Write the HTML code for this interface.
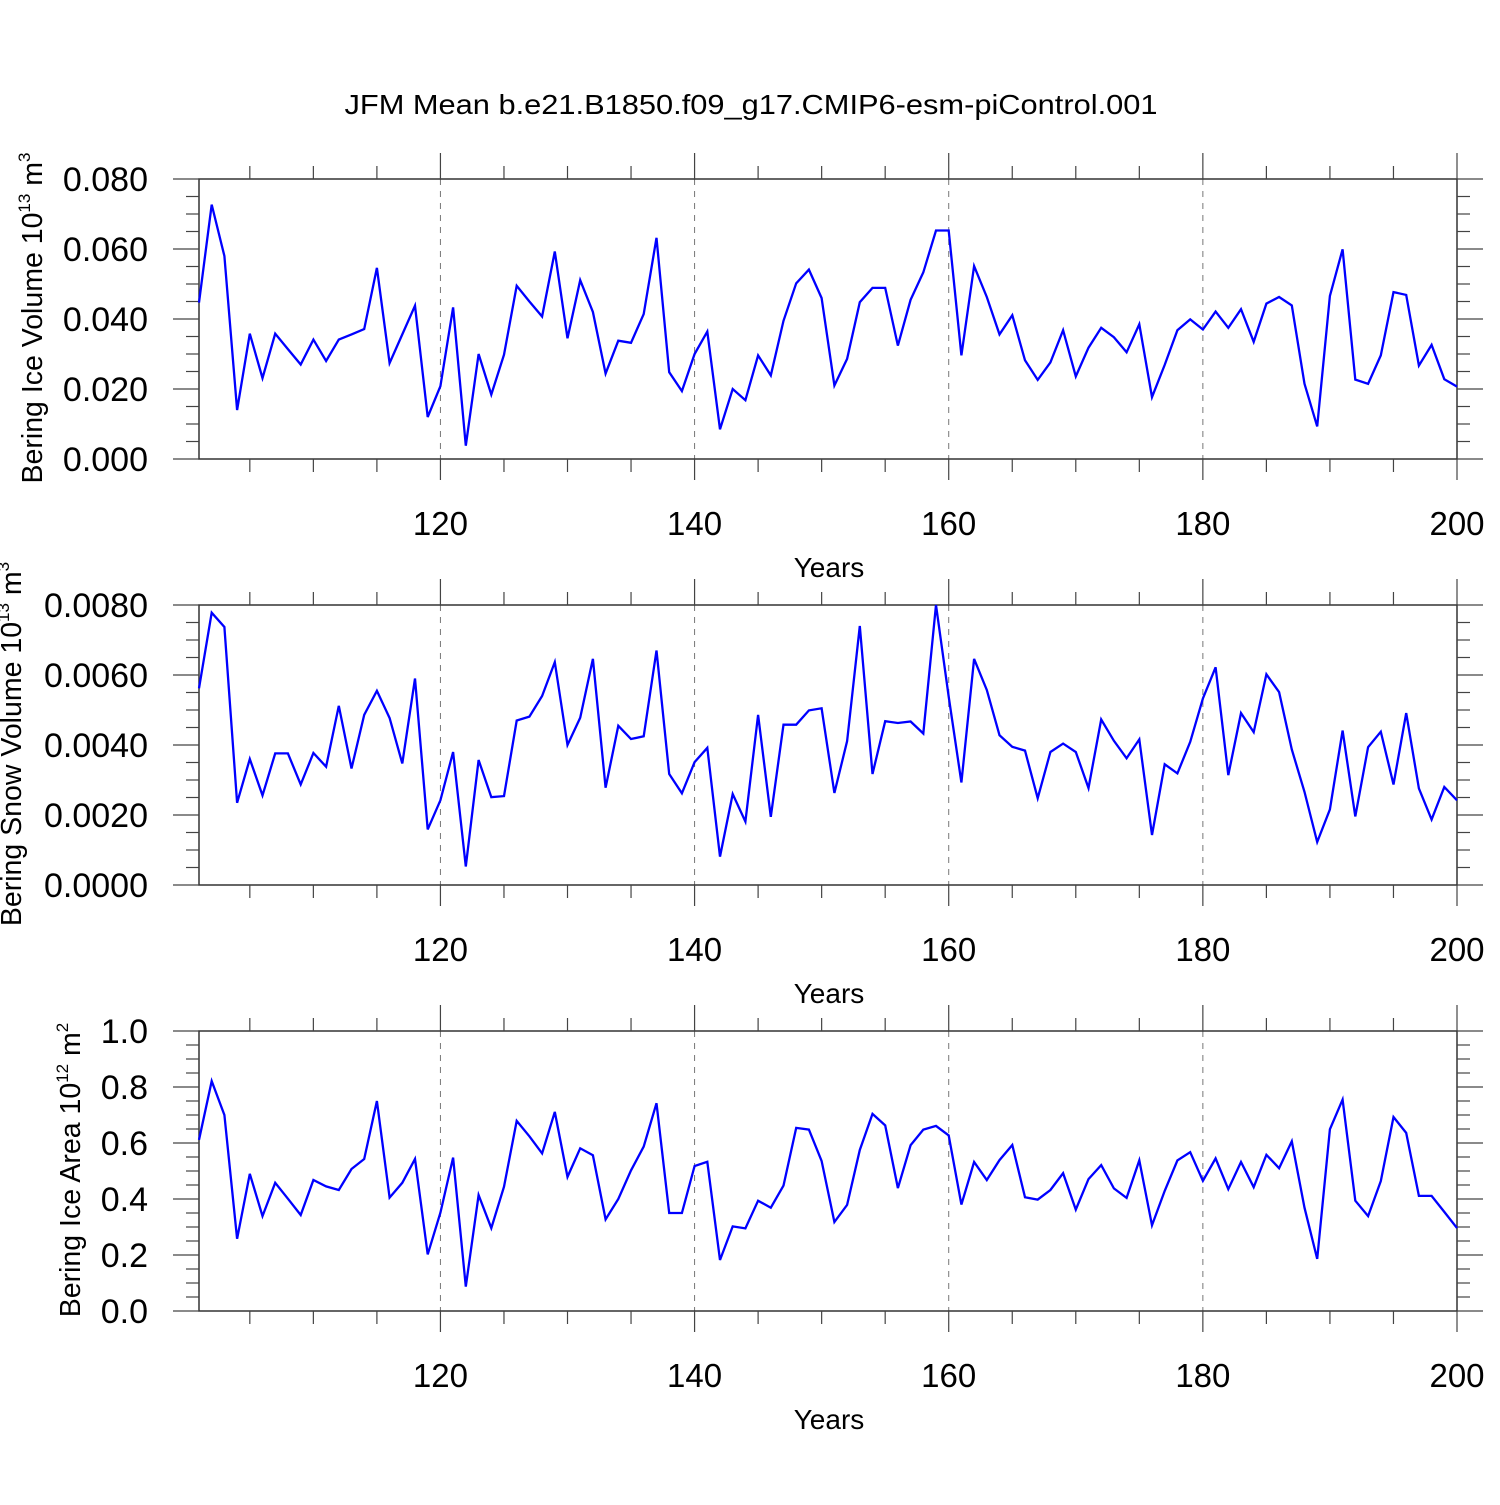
<!DOCTYPE html>
<html><head><meta charset="utf-8"><style>
html,body{margin:0;padding:0;background:#fff;}
svg text{font-family:"Liberation Sans",Arial,sans-serif;fill:#000;}
</style></head><body>
<svg id="chart" width="1500" height="1500" viewBox="0 0 1500 1500" xmlns="http://www.w3.org/2000/svg">
<rect x="0" y="0" width="1500" height="1500" fill="#fff"/>
<text x="751" y="114" font-size="28" text-anchor="middle" textLength="813" lengthAdjust="spacingAndGlyphs">JFM Mean b.e21.B1850.f09_g17.CMIP6-esm-piControl.001</text>
</svg>
<script>
const years = [];
for (let y = 101; y <= 200; y++) years.push(y);
const xTickLabels = ['120','140','160','180','200'];
const iceVolume = [0.0447,0.0727,0.058,0.014,0.0358,0.0231,0.0358,0.0314,0.027,0.0341,0.028,0.0341,0.0356,0.0371,0.0546,0.0274,0.0356,0.0438,0.012,0.0208,
0.0433,0.0038,0.030,0.0184,0.0298,0.0495,0.045,0.0407,0.0593,0.0345,0.0511,0.042,0.0244,0.0338,0.0332,0.0414,0.0632,0.0248,0.0194,0.030,
0.0364,0.0085,0.020,0.0168,0.0296,0.0239,0.0395,0.0502,0.0541,0.046,0.021,0.0286,0.0448,0.0489,0.0489,0.0324,0.0455,0.0533,0.0653,0.0653,
0.0296,0.0551,0.0463,0.0356,0.0411,0.0282,0.0226,0.0276,0.0368,0.0236,0.0318,0.0375,0.0348,0.0305,0.0385,0.0177,0.0269,0.0368,0.0399,0.037,
0.0421,0.0375,0.0428,0.0335,0.0444,0.0463,0.0439,0.0215,0.0093,0.0466,0.0599,0.0227,0.0215,0.0296,0.0477,0.0469,0.0267,0.0326,0.0228,0.0207];
const snowVolume = [0.00562,0.00778,0.00737,0.00235,0.0036,0.00256,0.00376,0.00376,0.00287,0.00377,0.00338,0.00512,0.00333,0.00486,0.00555,0.00477,0.00347,0.0059,0.00159,0.00242,
0.0038,0.00053,0.00357,0.00251,0.00254,0.0047,0.00481,0.0054,0.00637,0.004,0.00478,0.00646,0.00278,0.00455,0.00417,0.00425,0.0067,0.00317,0.00262,0.00351,
0.00392,0.00081,0.0026,0.00181,0.00486,0.00195,0.00458,0.00458,0.00499,0.00505,0.00263,0.00411,0.0074,0.00317,0.00468,0.00463,0.00467,0.00433,0.008,0.00538,
0.00293,0.00646,0.00557,0.00428,0.00395,0.00384,0.00248,0.0038,0.00404,0.0038,0.00277,0.00473,0.00412,0.00362,0.00416,0.00143,0.00345,0.00319,0.00409,0.00533,
0.00622,0.00314,0.00491,0.00437,0.00602,0.00551,0.00387,0.00266,0.00123,0.00216,0.00441,0.00196,0.00394,0.00438,0.00287,0.00491,0.00276,0.00187,0.0028,0.00242];
const iceArea = [0.611,0.821,0.7,0.258,0.49,0.339,0.458,0.401,0.343,0.468,0.445,0.432,0.507,0.543,0.75,0.405,0.458,0.543,0.202,0.351,
0.548,0.087,0.414,0.296,0.444,0.679,0.624,0.563,0.711,0.479,0.581,0.556,0.327,0.4,0.502,0.587,0.742,0.35,0.35,0.518,
0.533,0.182,0.302,0.295,0.394,0.369,0.448,0.654,0.648,0.536,0.318,0.379,0.575,0.704,0.663,0.439,0.592,0.648,0.661,0.627,
0.38,0.532,0.468,0.539,0.593,0.406,0.398,0.432,0.492,0.362,0.471,0.521,0.438,0.404,0.538,0.306,0.429,0.538,0.567,0.465,
0.545,0.435,0.532,0.442,0.558,0.51,0.606,0.369,0.186,0.649,0.755,0.394,0.339,0.464,0.693,0.636,0.411,0.411,0.354,0.296];
const yTicks1 = ['0.000','0.020','0.040','0.060','0.080'];
const yTicks2 = ['0.0000','0.0020','0.0040','0.0060','0.0080'];
const yTicks3 = ['0.0','0.2','0.4','0.6','0.8','1.0'];

const NS = 'http://www.w3.org/2000/svg';
const svg = document.getElementById('chart');
const X0 = 199, X1 = 1457, XMIN = 101, XMAX = 200;
function xScale(v){ return X0 + (v - XMIN) / (XMAX - XMIN) * (X1 - X0); }
function mk(tag, attrs, parent){
  const e = document.createElementNS(NS, tag);
  for (const k in attrs) e.setAttribute(k, attrs[k]);
  (parent || svg).appendChild(e);
  return e;
}
function panel(idx, top, vals, ymax, ticks, minorStep, titleMain, titleExp, titleUnitExp, titleX, titleCY){
  const bot = top + 280;
  const g = mk('g', {});
  
  
  const yScale = v => bot - v / ymax * 280;
  for (let yr = 120; yr <= 180; yr += 20) {
    const l = mk('line', {x1:xScale(yr), x2:xScale(yr), y1:top, y2:bot, stroke:'#777', 'stroke-width':1, 'stroke-dasharray':'6,6'}, g);
    
    
  }
  const fr = mk('rect', {x:X0, y:top, width:X1-X0, height:280, fill:'none', stroke:'#333', 'stroke-width':1.5}, g);
  
  
  for (let yr = 105; yr <= 200; yr += 5) {
    const major = yr % 20 === 0;
    const x = xScale(yr);
    const len = major ? 26 : 13;
    mk('line', {x1:x, x2:x, y1:top, y2:top-len, stroke:'#444', 'stroke-width':1.2}, g);
    mk('line', {x1:x, x2:x, y1:bot, y2:bot+(major?21:13), stroke:'#444', 'stroke-width':1.2}, g);
  }
  xTickLabels.forEach(lbl => {
    const t = mk('text', {x:xScale(+lbl), y:bot+76, 'font-size':33, 'text-anchor':'middle'}, g);
    t.textContent = lbl;
    
    
  });
  const xt = mk('text', {x:829, y:bot+118, 'font-size':28, 'text-anchor':'middle'}, g);
  xt.textContent = 'Years';
  
  
  const nMinor = Math.round(ymax / minorStep);
  for (let i = 0; i <= nMinor; i++) {
    const v = i * minorStep;
    const y = yScale(v);
    const major = i % 4 === 0;
    mk('line', {x1:X0, x2:X0-(major?26:13), y1:y, y2:y, stroke:'#444', 'stroke-width':1.2}, g);
    mk('line', {x1:X1, x2:X1+(major?26:13), y1:y, y2:y, stroke:'#444', 'stroke-width':1.2}, g);
  }
  ticks.forEach(lbl => {
    const t = mk('text', {x:148, y:yScale(+lbl)+12, 'font-size':34, 'text-anchor':'end'}, g);
    t.textContent = lbl;
    
    
  });
  const yt = mk('text', {x:0, y:0, 'font-size':28.5, 'text-anchor':'middle', transform:'translate(' + titleX + ',' + titleCY + ') rotate(-90)'}, g);
  
  
  const s1 = mk('tspan', {}, yt); s1.textContent = titleMain + ' 10';
  const s2 = mk('tspan', {dy:-12, 'font-size':17}, yt); s2.textContent = titleExp;
  const s3 = mk('tspan', {dy:12}, yt); s3.textContent = ' m';
  const s4 = mk('tspan', {dy:-12, 'font-size':17}, yt); s4.textContent = titleUnitExp;
  const pts = vals.map((v, i) => xScale(years[i]).toFixed(1) + ',' + yScale(v).toFixed(1)).join(' ');
  const pl = mk('polyline', {points:pts, fill:'none', stroke:'#0000ff', 'stroke-width':2.3, 'stroke-linejoin':'miter'}, g);
  
  
}
panel(1, 179, iceVolume, 0.08, yTicks1, 0.005, 'Bering Ice Volume', '13', '3', 42, 318);
panel(2, 605, snowVolume, 0.008, yTicks2, 0.0005, 'Bering Snow Volume', '13', '3', 21, 744);
panel(3, 1031, iceArea, 1.0, yTicks3, 0.05, 'Bering Ice Area', '12', '2', 80, 1170);
</script>
</body></html>
